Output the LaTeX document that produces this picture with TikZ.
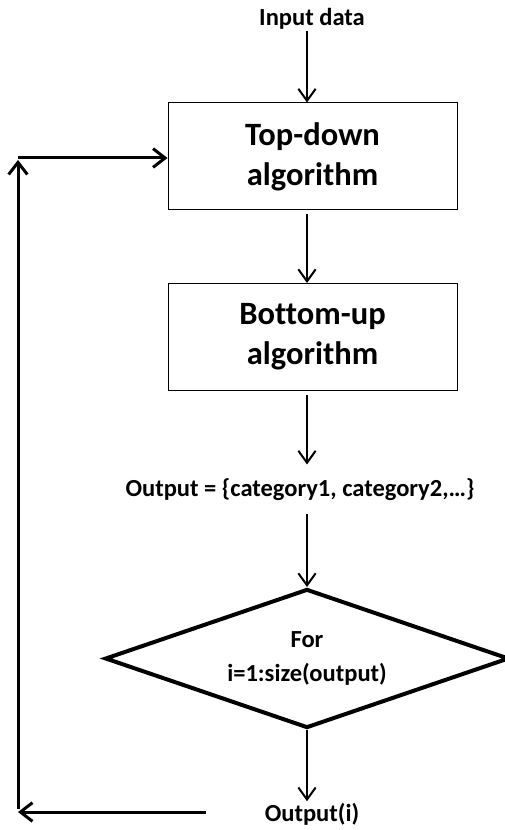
\documentclass[tikz,border=0pt]{standalone}
\usepackage{fontspec}
\setmainfont{Carlito}[Ligatures=NoCommon]
\usetikzlibrary{arrows.meta,shapes.geometric}

\begin{document}
\begin{tikzpicture}[x=0.75pt,y=0.75pt,yscale=-1,xscale=1,
	flow/.style={-{Straight Barb[length=9pt,width=13pt]},line width=1.5pt},
	back/.style={-{Straight Barb[length=9pt,width=14pt]},line width=2.25pt},
	algobox/.style={draw,line width=0.75pt,minimum width=216.75pt,minimum height=80.25pt,align=center,font=\fontsize{24.4}{30}\selectfont\bfseries},
	txt/.style={inner sep=1pt,font=\fontsize{18.4}{22}\selectfont\bfseries},
	loopcheck/.style={diamond,draw,line width=3pt,aspect=2.9,minimum width=303pt,minimum height=104.25pt,inner sep=0pt,align=center,font=\fontsize{18.4}{26}\selectfont\bfseries}]
	\useasboundingbox (0,0) rectangle (504,830);
	\coordinate (spine) at (307,0);
	
	\draw (312,26) node [txt,anchor=base] (input) {Input data};
	\draw (312.5,156.5) node [algobox] (topdown) {Top-down\\algorithm};
	\draw (312.5,337) node [algobox] (bottomup) {Bottom-up\\algorithm};
	\draw (300,496) node [txt,anchor=base,inner ysep=10pt] (output) {Output = \{category1, category2,…\}};
	\draw (307,658.5) node [loopcheck] (forloop) {For\\i=1:size(output)};
	\draw (312,821) node [txt,anchor=base] (outi) {Output(i)};
	
	\draw [flow] (input.south -| spine) -- (topdown.north -| spine);
	\draw [flow,shorten <=3pt] (topdown.south -| spine) -- (bottomup.north -| spine);
	\draw [flow,shorten <=3pt] (bottomup.south -| spine) -- (output.north -| spine);
	\draw [flow] (output.south -| spine) -- (forloop.north);
	\draw [flow] (forloop.south) -- (outi.north -| spine);
	
	% loop back to the top-down step
	\coordinate (loopstart) at (206,812);
	\coordinate (lowcorner) at (18,812);
	\coordinate (topcorner) at (18,158);
	\draw [back] (loopstart) -- (lowcorner);
	\draw [back,shorten <=2pt,shorten >=1.5pt] (lowcorner) -- (topcorner);
	\draw [back] (topcorner) -- (topdown.west |- topcorner);
\end{tikzpicture}
\end{document}
